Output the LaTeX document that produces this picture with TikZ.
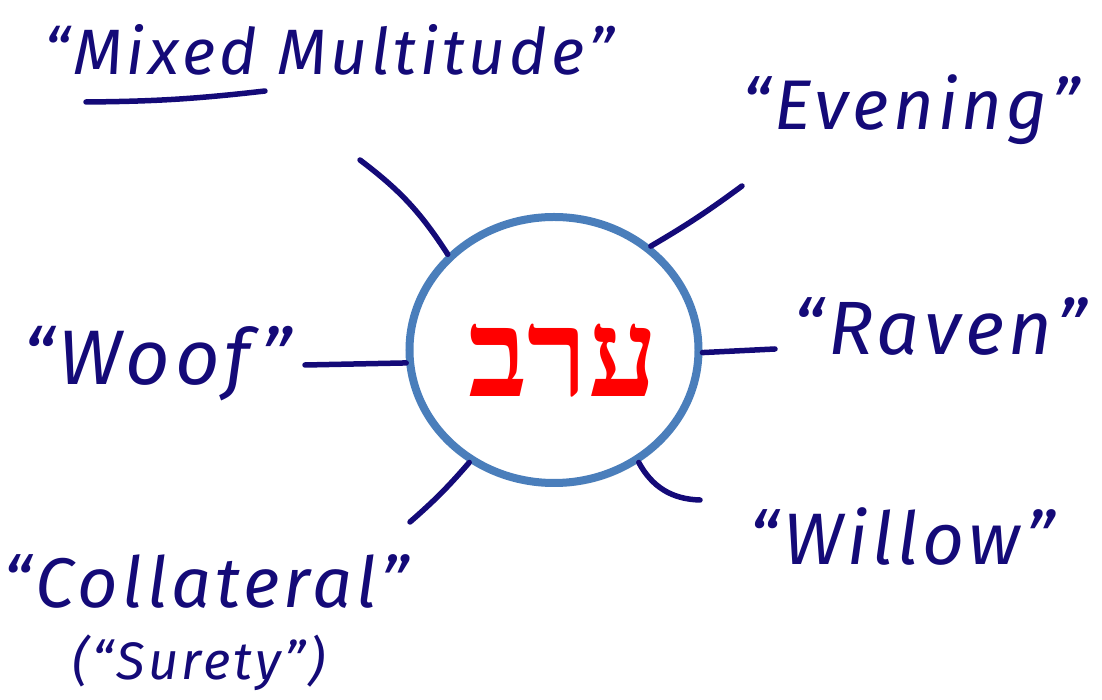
\documentclass[tikz,border=0pt]{standalone}
\usepackage{fontspec}
\usetikzlibrary{shapes.geometric,shadows}
\newfontfamily\hand[LetterSpace=6]{Fira Sans}
\newfontfamily\hebfont[Script=Hebrew]{Liberation Serif}
\TeXXeTstate=1
\definecolor{ink}{HTML}{140A78}
\definecolor{ringblue}{HTML}{4A7EBB}
\definecolor{hebred}{HTML}{FF0000}
\tikzset{
  ring/.style={ellipse, draw=ringblue, line width=1.6mm, fill=white, inner sep=0pt,
    minimum width=57.8mm, minimum height=53.2mm,
    drop shadow={shadow xshift=0.3mm, shadow yshift=-0.8mm, opacity=0.18}},
  conn/.style={draw=ink, line width=1.1mm, line cap=round},
  word/.style={text=ink, anchor=base, inner sep=0pt, font=\hand\itshape},
}
\begin{document}
\begin{tikzpicture}[x=0.2mm,y=-0.2mm]
\useasboundingbox (0,0) rectangle (1102,700);
\node[ring] (c) at (554,350) {};
\node[text=hebred, anchor=base, inner sep=0pt, font=\hebfont\bfseries\fontsize{70}{74}\selectfont] (heb) at (563,397) {\beginR ערב\endR};
% labels
\node[word, font=\hand\itshape\fontsize{36.5}{40}\selectfont] (mixed) at (329,75) {“Mixed Multitude”};
\node[word, font=\hand\itshape\fontsize{40}{44}\selectfont] (evening) at (911,130) {“Evening”};
\node[word, font=\hand\itshape\fontsize{44}{50}\selectfont] (woof) at (157,385) {“Woof”};
\node[word, font=\hand\itshape\fontsize{43}{48}\selectfont] (raven) at (940,355) {“Raven”};
\node[word, font=\hand\itshape\fontsize{41.5}{46}\selectfont] (willow) at (902,565) {“Willow”};
\node[word, font=\hand\itshape\fontsize{40}{44}\selectfont] (collat) at (206,608) {“Collateral”};
\node[word, font=\hand\itshape\fontsize{30}{36}\selectfont] (surety) at (199,680) {(“Surety”)};
% underline
\coordinate (ulA) at (86,102);
\coordinate (ulB) at (265,91);
\draw[conn] (ulA) to[bend right=3] (ulB);
% connector ends
\coordinate (eUL) at (360,160);
\coordinate (eUR) at (742,186);
\coordinate (eL) at (305,365);
\coordinate (eR) at (775,349);
\coordinate (eLL) at (410,522);
\coordinate (eLR) at (700,500);
\draw[conn] (c.138) to[bend right=10] (eUL);
\draw[conn] (c.47) to[bend right=3] (eUR);
\draw[conn] (c.185) to (eL);
\draw[conn] (c.-1) to (eR);
\draw[conn] (c.233) to[bend left=4] (eLL);
\draw[conn] (c.307) to[bend right=30] (eLR);
\end{tikzpicture}
\end{document}
